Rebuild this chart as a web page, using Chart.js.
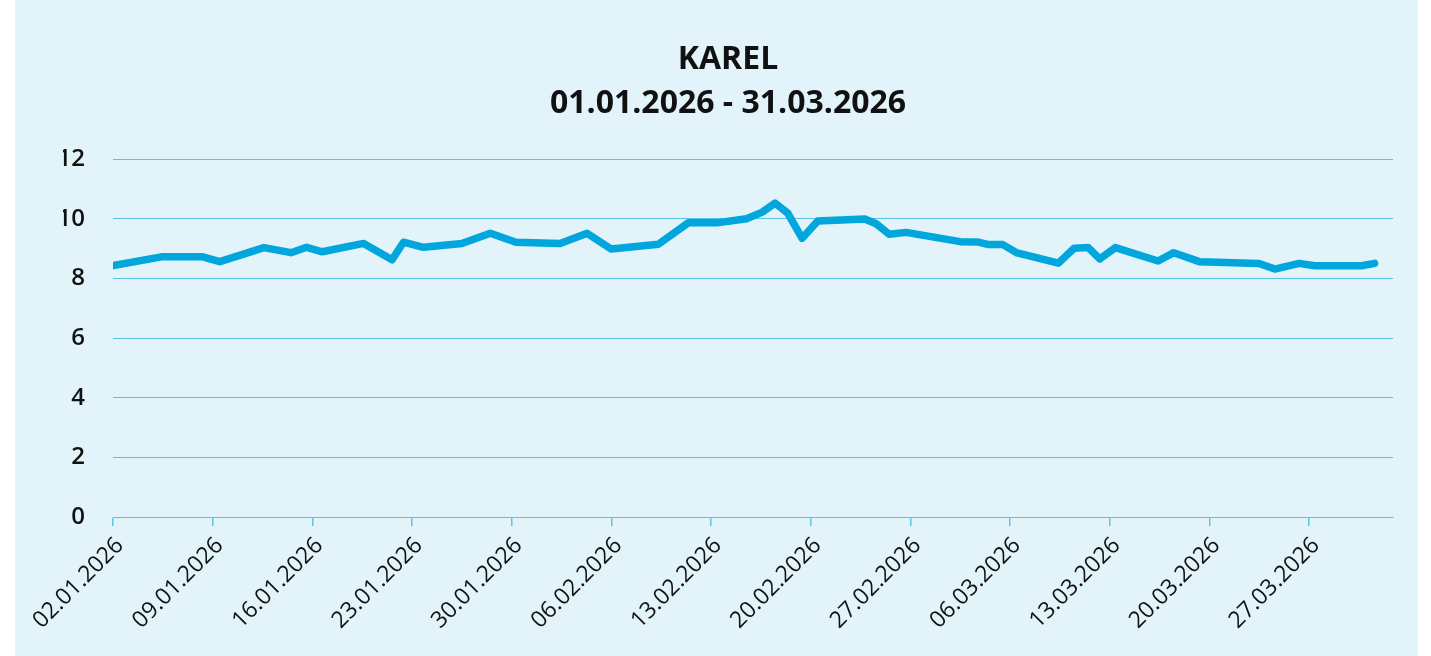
<!DOCTYPE html>
<html>
<head>
<meta charset="utf-8">
<script src="https://cdn.jsdelivr.net/npm/chart.js@4.4.1/dist/chart.umd.min.js"></script>
<style>
  html, body { margin: 0; padding: 0; background: #ffffff; overflow: hidden; }
  #panel { position: absolute; left: 15px; top: 0; width: 1403px; height: 656px; background: #e2f3fa; }
  #c { position: absolute; left: 0; top: 0; }
</style>
</head>
<body>
<div id="panel"></div>
<canvas id="c" width="1431" height="656"></canvas>
<script>
// Days since 02.01.2026 at which each value is plotted
const dayOffsets = [0.0, 3.4, 6.3, 7.5, 10.6, 12.5, 13.6, 14.7, 17.6, 19.6,
  20.4, 21.8, 24.5, 26.5, 28.3, 31.4, 33.3, 35.0, 38.3, 40.4,
  42.4, 44.5, 45.6, 46.5, 47.4, 48.4, 49.5, 52.8, 53.6, 54.5,
  55.7, 59.5, 60.7, 61.5, 62.5, 63.5, 66.4, 67.5, 68.5, 69.3,
  70.4, 73.4, 74.5, 76.3, 80.5, 81.6, 83.3, 84.4, 87.7, 88.6];
const prices = [8.43, 8.72, 8.72, 8.56, 9.03, 8.86, 9.04, 8.89, 9.17, 8.62,
  9.21, 9.04, 9.17, 9.51, 9.21, 9.17, 9.51, 8.98, 9.14, 9.86,
  9.86, 10.00, 10.22, 10.52, 10.18, 9.34, 9.92, 9.99, 9.83, 9.48,
  9.54, 9.23, 9.22, 9.13, 9.13, 8.85, 8.51, 9.01, 9.03, 8.65,
  9.03, 8.58, 8.86, 8.56, 8.50, 8.31, 8.50, 8.42, 8.42, 8.50];
const tickDays = [0, 7, 14, 21, 28, 35, 42, 49, 56, 63, 70, 77, 84];
const tickLabels = ['02.01.2026', '09.01.2026', '16.01.2026', '23.01.2026', '30.01.2026',
  '06.02.2026', '13.02.2026', '20.02.2026', '27.02.2026', '06.03.2026',
  '13.03.2026', '20.03.2026', '27.03.2026'];
const titleLines = ['KAREL', '01.01.2026 - 31.03.2026'];

const points = dayOffsets.map((d, i) => ({ x: d, y: prices[i] }));
const gridColor = '#5cc3e8';

new Chart(document.getElementById('c'), {
  type: 'line',
  data: {
    datasets: [{
      data: points,
      borderColor: '#00a6dc',
      borderWidth: 7.5,
      pointRadius: 0,
      tension: 0,
      borderCapStyle: 'round',
      borderJoinStyle: 'round',
      fill: false
    }]
  },
  options: {
    responsive: false,
    animation: false,
    layout: { padding: { left: 63, right: 38, top: 0, bottom: 0 } },
    plugins: {
      legend: { display: false },
      tooltip: { enabled: false },
      title: {
        display: true,
        text: titleLines,
        color: '#111111',
        font: { family: 'Open Sans', size: 32, weight: '700', lineHeight: 44 / 32 },
        padding: { top: 38, bottom: 33 }
      }
    },
    scales: {
      x: {
        type: 'linear',
        min: 0,
        max: 89.9,
        afterBuildTicks: (scale) => { scale.ticks = tickDays.map(v => ({ value: v })); },
        afterFit: (scale) => { scale.height = 139; },
        grid: { drawOnChartArea: false, drawTicks: true, tickLength: 9, color: gridColor, lineWidth: 1.5 },
        border: { display: true, color: gridColor, width: 1 },
        ticks: {
          autoSkip: false,
          maxRotation: 45,
          minRotation: 45,
          padding: 6,
          labelOffset: 7,
          color: '#111111',
          font: { family: 'Open Sans', size: 23, weight: '500' },
          callback: (value, index) => tickLabels[index]
        }
      },
      y: {
        min: 0,
        max: 12,
        afterFit: (scale) => { scale.width = 50; },
        grid: { drawTicks: false, color: gridColor, lineWidth: 1 },
        border: { display: false },
        ticks: {
          stepSize: 2,
          padding: 28,
          color: '#111111',
          font: { family: 'Open Sans', size: 24, weight: '600' }
        }
      }
    }
  }
});
</script>
</body>
</html>
